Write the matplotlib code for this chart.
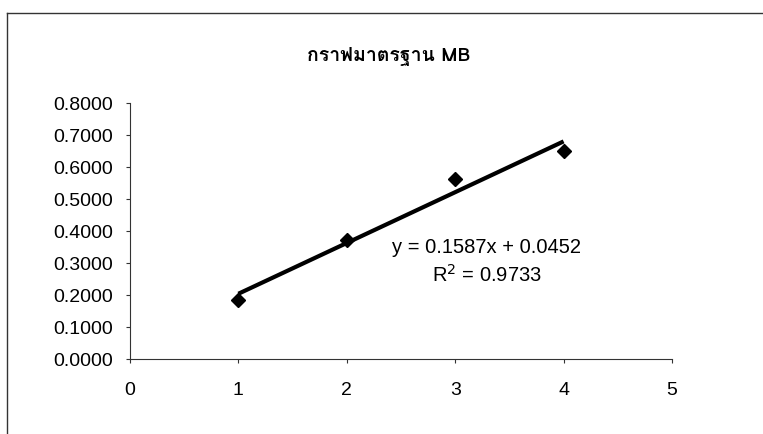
import matplotlib
matplotlib.use("Agg")
import matplotlib.pyplot as plt
from matplotlib import font_manager
from matplotlib.ft2font import FT2Font
from matplotlib.lines import Line2D
import numpy as np

# data
x_vals = [1, 2, 3, 4]
y_vals = [0.184, 0.371, 0.563, 0.650]
slope = 0.1587
intercept = 0.0452
r2 = 0.9733
title = "กราฟมาตรฐาน MB"
x_ticks = [0, 1, 2, 3, 4, 5]
y_ticks = [0.0, 0.1, 0.2, 0.3, 0.4, 0.5, 0.6, 0.7, 0.8]

# find an installed font that has Thai glyphs
thai_font = None
for f in font_manager.fontManager.ttflist:
    try:
        if 0x0E01 in FT2Font(f.fname).get_charmap():
            thai_font = f.name
            break
    except Exception:
        pass

plt.rcParams["font.family"] = ["Liberation Sans", "DejaVu Sans"]

fig = plt.figure(figsize=(7.63, 4.35), dpi=100)
ax = fig.add_axes([130 / 763, 1 - 360 / 435, 542 / 763, 256 / 435])

# chart frame (left and top edges visible on the scan)
fig.add_artist(Line2D([7 / 763, 7 / 763], [0, 1 - 14 / 435], transform=fig.transFigure,
                      color="#333333", lw=1))
fig.add_artist(Line2D([7 / 763, 1], [1 - 14 / 435, 1 - 14 / 435], transform=fig.transFigure,
                      color="#333333", lw=1))

# points and trendline
ax.plot(x_vals, y_vals, "D", color="black", markersize=7, zorder=3)
xl = np.array([x_vals[0], x_vals[-1]])
ax.plot(xl, slope * xl + intercept, color="black", lw=3, solid_capstyle="butt")

ax.text(3.29, 0.353, f"y = {slope:.4f}x + {intercept:.4f}", ha="center", va="center", fontsize=14.5)
ax.text(3.29, 0.266, f"R$^2$ = {r2:.4f}", ha="center", va="center", fontsize=14.5)

ax.set_xlim(0, 5)
ax.set_ylim(0, 0.8)
ax.set_xticks(x_ticks)
ax.set_yticks(y_ticks)
ax.set_yticklabels([f"{v:.4f}" for v in y_ticks])
ax.tick_params(labelsize=14, length=3, width=0.8, color="#333333")
ax.tick_params(axis="x", pad=13)
ax.tick_params(axis="y", pad=9)
for s in ["top", "right"]:
    ax.spines[s].set_visible(False)
for s in ["left", "bottom"]:
    ax.spines[s].set_color("#333333")
    ax.spines[s].set_linewidth(0.8)

fam = [thai_font, "DejaVu Sans"] if thai_font else ["DejaVu Sans"]
fig.text(470 / 763, 1 - 57 / 435, title, ha="right", va="center", fontsize=14,
         family=fam, fontweight="bold")

fig.savefig("out.png", dpi=100, facecolor="white")
